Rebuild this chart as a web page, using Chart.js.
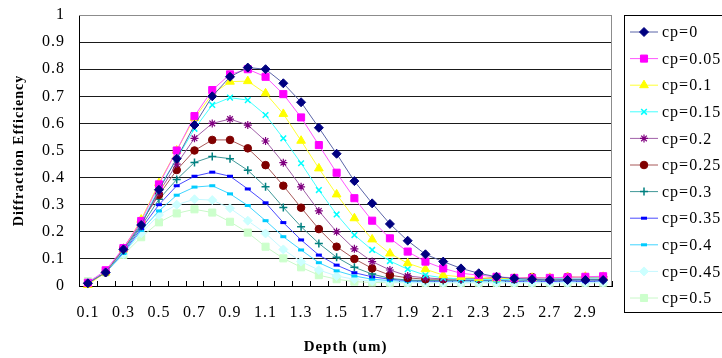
<!DOCTYPE html>
<html>
<head>
<meta charset="utf-8">
<script src="https://cdn.jsdelivr.net/npm/chart.js@4/dist/chart.umd.min.js"></script>
<style>
html,body{margin:0;padding:0;background:#fff;overflow:hidden;}
canvas{display:block;}
</style>
</head>
<body>
<canvas id="c" width="722" height="358"></canvas>
<script>
const depth = ['0.1','0.2','0.3','0.4','0.5','0.6','0.7','0.8','0.9','1.0',
               '1.1','1.2','1.3','1.4','1.5','1.6','1.7','1.8','1.9','2.0',
               '2.1','2.2','2.3','2.4','2.5','2.6','2.7','2.8','2.9','3.0'];
const yTicks = [0,0.1,0.2,0.3,0.4,0.5,0.6,0.7,0.8,0.9,1];
const seriesNames = ['cp=0','cp=0.05','cp=0.1','cp=0.15','cp=0.2','cp=0.25','cp=0.3','cp=0.35','cp=0.4','cp=0.45','cp=0.5'];

const cp000 = [.01,.05,.135,.225,.355,.47,.594,.70,.772,.806, .80,.748,.678,.584,.488,.387,.305,.229,.167,.117, .09,.065,.047,.034,.028,.025,.022,.022,.022,.022];
const cp005 = [.012,.058,.14,.24,.375,.50,.627,.723,.781,.80, .772,.708,.622,.52,.418,.324,.241,.176,.127,.09, .065,.047,.04,.034,.03,.03,.03,.032,.034,.036];
const cp010 = [.004,.05,.135,.245,.38,.50,.62,.708,.754,.756, .711,.635,.536,.434,.338,.25,.172,.12,.084,.062, .04,.034,.03,.028,.028,.03,.03,.032,.034,.034];
const cp015 = [.01,.05,.13,.23,.36,.47,.58,.668,.695,.686, .631,.545,.453,.354,.264,.188,.133,.092,.062,.04, .03,.026,.024,.024,.025,.026,.028,.03,.03,.03];
const cp020 = [.01,.05,.135,.23,.345,.45,.545,.60,.616,.594, .535,.455,.366,.277,.20,.137,.09,.059,.037,.03, .026,.025,.026,.028,.028,.028,.028,.03,.03,.03];
const cp025 = [.01,.05,.14,.235,.336,.428,.50,.539,.539,.508, .446,.37,.289,.21,.145,.10,.065,.04,.03,.025, .025,.028,.026,.032,.026,.033,.027,.034,.03,.034];
const cp030 = [.01,.05,.13,.22,.32,.393,.456,.478,.47,.427, .366,.29,.219,.157,.106,.069,.044,.028,.022,.02, .02,.022,.022,.022,.022,.022,.022,.024,.024,.024];
const cp035 = [.01,.05,.125,.212,.30,.37,.405,.42,.405,.358, .307,.234,.17,.114,.077,.049,.034,.025,.02,.018, .018,.02,.02,.022,.016,.02,.016,.02,.016,.02];
const cp040 = [.01,.05,.12,.205,.277,.335,.365,.37,.34,.297, .241,.182,.133,.086,.056,.037,.025,.02,.017,.018, .018,.018,.018,.018,.018,.018,.018,.018,.018,.018];
const cp045 = [.012,.05,.118,.195,.262,.30,.32,.317,.287,.241, .194,.135,.09,.059,.037,.025,.018,.015,.013,.012, .012,.012,.012,.012,.012,.012,.012,.012,.012,.012];
const cp050 = [.018,.05,.115,.18,.235,.268,.283,.271,.237,.197, .145,.102,.069,.04,.025,.016,.013,.012,.012,.012, .012,.012,.012,.012,.012,.012,.012,.012,.012,.012];

const seriesValues = [cp000,cp005,cp010,cp015,cp020,cp025,cp030,cp035,cp040,cp045,cp050];
const colors = ['#000080','#FF00FF','#FFFF00','#00FFFF','#800080','#800000','#008080','#0000FF','#00CCFF','#CCFFFF','#CCFFCC'];
const lineColors = ['#5a64a8','#ff55ff','#ffff33','#44ffff','#a060a8','#a85858','#409898','#4a4aff','#40d4ff','#c4f8ff','#c8f8c8'];
const styles = [
  {pointStyle:'rectRot', radius:4.5, bw:1},
  {pointStyle:'rect', radius:5, bw:1},
  {pointStyle:'triangle', radius:5, bw:1},
  {pointStyle:'crossRot', radius:4, bw:1.5},
  {pointStyle:'star', radius:4, bw:1.2},
  {pointStyle:'circle', radius:3.8, bw:1},
  {pointStyle:'cross', radius:4, bw:1.5},
  {pointStyle:'line', radius:3, bw:3},
  {pointStyle:'line', radius:3, bw:3},
  {pointStyle:'rectRot', radius:4.5, bw:1},
  {pointStyle:'rect', radius:5, bw:1}
];
const serif = "'Liberation Serif','Times New Roman',serif";

const datasets = seriesValues.map((vals,i)=>({
  label: seriesNames[i],
  data: vals,
  borderColor: lineColors[i],
  backgroundColor: colors[i],
  borderWidth: 1,
  pointStyle: styles[i].pointStyle,
  pointRadius: styles[i].radius,
  pointBorderWidth: styles[i].bw,
  pointBackgroundColor: colors[i],
  pointBorderColor: colors[i],
  tension: 0,
  clip: false,
  order: i
}));

const spacing = {
  id:'spacing',
  beforeUpdate(chart){ chart.ctx.letterSpacing = '1px'; },
  beforeLayout(chart){ chart.ctx.letterSpacing = '1px'; },
  beforeDraw(chart){ chart.ctx.letterSpacing = '1px'; }
};

const frame = {
  id:'frame',
  beforeDatasetsDraw(chart){
    const {ctx, chartArea:a} = chart;
    ctx.save();
    ctx.strokeStyle = '#8c8c8c';
    ctx.lineWidth = 1;
    ctx.beginPath();
    ctx.moveTo(a.left, a.top+0.5); ctx.lineTo(a.right-0.5, a.top+0.5); ctx.lineTo(a.right-0.5, a.bottom);
    ctx.stroke();
    const xs = chart.scales.x;
    const n = depth.length;
    ctx.strokeStyle = '#000';
    ctx.beginPath();
    for(let i=0;i<=n;i++){
      const x = Math.round(xs.left + i*(xs.width/n)) + 0.5;
      ctx.moveTo(x, a.bottom); ctx.lineTo(x, a.bottom-5);
    }
    ctx.stroke();
    ctx.restore();
  },
  afterDraw(chart){
    const {ctx, chartArea:a} = chart;
    const left = a.right + 12, top = a.top;
    ctx.save();
    ctx.letterSpacing = '1px';
    ctx.strokeStyle = '#000';
    ctx.lineWidth = 1;
    ctx.strokeRect(left+0.5, top+0.5, 140, 297);
    ctx.font = "16px " + serif;
    ctx.textBaseline = 'middle';
    ctx.textAlign = 'left';
    chart.data.datasets.forEach((ds,i)=>{
      const y = top + 17 + i*26.6;
      ctx.strokeStyle = ds.borderColor;
      ctx.lineWidth = 1;
      ctx.beginPath(); ctx.moveTo(left+6, y); ctx.lineTo(left+34, y); ctx.stroke();
      ctx.fillStyle = ds.pointBackgroundColor;
      ctx.strokeStyle = ds.pointBorderColor;
      ctx.lineWidth = ds.pointBorderWidth;
      Chart.helpers.drawPoint(ctx, {pointStyle: ds.pointStyle, radius: ds.pointRadius, borderWidth: ds.pointBorderWidth, rotation:0}, left+20, y);
      ctx.fillStyle = '#000';
      ctx.fillText(ds.label, left+38, y+1);
    });
    ctx.restore();
  }
};

new Chart(document.getElementById('c'), {
  type:'line',
  data:{labels: depth, datasets},
  plugins:[spacing, frame],
  options:{
    responsive:false,
    animation:false,
    layout:{padding:{top:15,right:110,left:0,bottom:0}},
    plugins:{legend:{display:false}, tooltip:{enabled:false}},
    scales:{
      x:{
        type:'category',
        offset:true,
        grid:{display:false, drawTicks:false},
        border:{display:true, color:'#000', width:1},
        ticks:{autoSkip:false, maxRotation:0, minRotation:0, padding:17, color:'#000',
               font:{family:serif, size:16},
               callback:(v,i)=> i%2===0 ? depth[i] : ''},
        title:{display:true, text:'Depth (um)', color:'#000',
               font:{family:serif, size:15, weight:'bold'}, padding:{top:0,bottom:2}},
        afterFit:s=>{s.height = 72; s.paddingLeft = 0; s.paddingRight = 0;}
      },
      y:{
        min:0, max:1,
        afterBuildTicks:s=>{s.ticks = yTicks.map(v=>({value:v}));},
        ticks:{padding:14, color:'#000', font:{family:serif, size:16},
               callback:v=> String(+v.toFixed(1))},
        grid:{drawTicks:false, lineWidth:1,
              color:c=> c.tick && c.tick.value===1 ? '#8c8c8c' : '#1a1a1a'},
        border:{display:true, color:'#000', width:1},
        title:{display:true, text:'Diffraction Efficiency', color:'#000',
               font:{family:serif, size:14, weight:'bold'}, padding:{top:11,bottom:0}},
        afterFit:s=>{s.width = 79; s.paddingTop = 0; s.paddingBottom = 0;}
      }
    }
  }
});
</script>
</body>
</html>
